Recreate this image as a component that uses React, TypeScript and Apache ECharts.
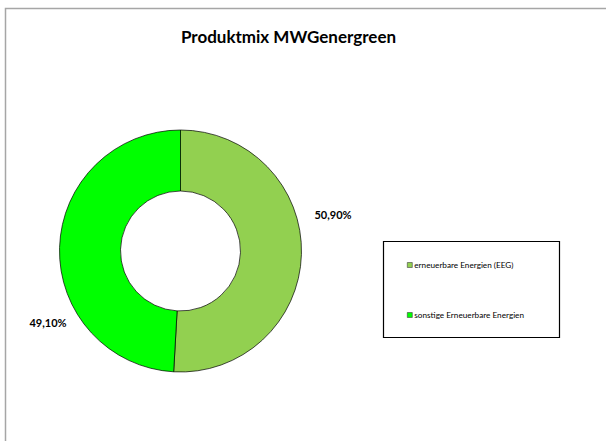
import React, { useEffect, useRef } from "react";
import * as echarts from "echarts";

const title = "Produktmix MWGenergreen";
const categories = ["erneuerbare Energien (EEG)", "sonstige Erneuerbare Energien"];
const values = [50.9, 49.1];
const colors = ["#92D050", "#00FF00"];

const FONT = "Lato, 'Open Sans', sans-serif";

export default function App() {
  const ref = useRef<HTMLDivElement>(null);
  useEffect(() => {
    if (!ref.current) return;
    const chart = echarts.init(ref.current, undefined, { renderer: "svg" });
    const labelPos = [
      { x: 333, y: 214 },
      { x: 48, y: 322 },
    ];
    chart.setOption({
      animation: false,
      backgroundColor: "#ffffff",
      graphic: [
        {
          type: "rect",
          shape: { x: 5.5, y: 8.5, width: 700, height: 500 },
          style: { fill: "none", stroke: "#a6a6a6", lineWidth: 1.5 },
          silent: true,
        },
        {
          type: "rect",
          shape: { x: 383.5, y: 241.5, width: 176, height: 96 },
          style: { fill: "#fff", stroke: "#000", lineWidth: 1.2 },
          silent: true,
          z: -1,
        },
        {
          type: "text",
          x: 288.5,
          y: 36,
          style: {
            text: title,
            align: "center",
            verticalAlign: "middle",
            fontFamily: FONT,
            fontSize: 17,
            fontWeight: "bold",
            fill: "#000",
          },
          silent: true,
        },
      ],
      legend: {
        orient: "vertical",
        left: 407,
        top: 261,
        itemWidth: 5,
        itemHeight: 5,
        itemGap: 42,
        icon: "rect",
        padding: 0,
        itemStyle: { borderColor: "#404040", borderWidth: 0.6 },
        textStyle: { fontFamily: FONT, fontSize: 8.2, color: "#000", padding: [0, 0, 0, -3] },
        data: categories,
      },
      series: [
        {
          type: "pie",
          center: [180.5, 251],
          radius: [60, 121],
          startAngle: 90,
          clockwise: true,
          avoidLabelOverlap: false,
          itemStyle: { borderColor: "#000", borderWidth: 0.7 },
          label: {
            show: true,
            position: "outside",
            fontFamily: FONT,
            fontSize: 11,
            fontWeight: "bold",
            color: "#000",
            formatter: (p: any) => p.value.toFixed(2).replace(".", ",") + "%",
          },
          labelLine: { show: false },
          labelLayout: (params: any) => ({
            x: labelPos[params.dataIndex].x,
            y: labelPos[params.dataIndex].y,
            align: "center",
            verticalAlign: "middle",
          }),
          emphasis: { disabled: true },
          data: categories.map((name, i) => ({
            name,
            value: values[i],
            itemStyle: { color: colors[i] },
          })),
        },
      ],
    });
    return () => chart.dispose();
  }, []);
  return (
    <div
      ref={ref}
      style={{ position: "absolute", left: 0, top: 0, width: 606, height: 441 }}
    />
  );
}
